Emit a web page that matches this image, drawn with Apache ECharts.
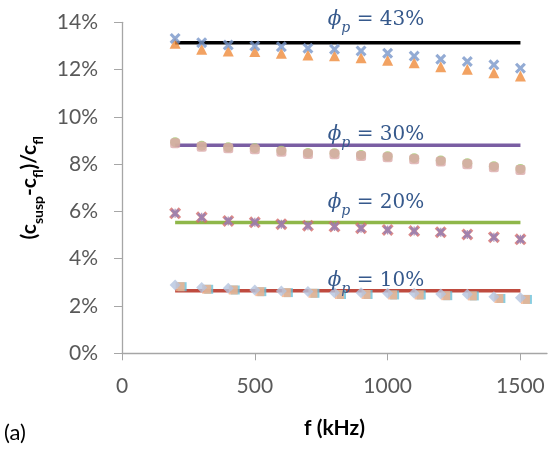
<!DOCTYPE html>
<html><head><meta charset="utf-8">
<script src="https://cdn.jsdelivr.net/npm/echarts@6/dist/echarts.min.js"></script>
<style>html,body{margin:0;padding:0;background:#fff}#c{width:552px;height:452px}</style>
</head><body><div id="c"></div>
<script>
const freq = [200,300,400,500,600,700,800,900,1000,1100,1200,1300,1400,1500];
const xTicks = [0,500,1000,1500];
const yTicks = [0,2,4,6,8,10,12,14];
// phi_p = 43%
const phi43Cross = [13.32,13.14,13.04,13.00,12.97,12.90,12.86,12.79,12.69,12.57,12.44,12.34,12.20,12.06];
const phi43Tri = [13.11,12.86,12.79,12.76,12.69,12.62,12.58,12.50,12.40,12.29,12.12,12.01,11.87,11.73];
// phi_p = 30%
const phi30Circle = [8.93,8.78,8.71,8.67,8.57,8.47,8.46,8.39,8.33,8.25,8.15,8.04,7.91,7.80];
const phi30Square = [8.88,8.74,8.67,8.63,8.53,8.43,8.42,8.35,8.29,8.21,8.11,8.00,7.87,7.75];
// phi_p = 20%
const phi20Cross = [5.92,5.75,5.60,5.54,5.46,5.40,5.36,5.29,5.22,5.17,5.12,5.03,4.91,4.82];
const phi20Star = [5.92,5.75,5.60,5.54,5.46,5.40,5.36,5.29,5.22,5.17,5.12,5.03,4.91,4.82];
// phi_p = 10%
const phi10SquareA = [2.86,2.75,2.72,2.65,2.61,2.58,2.53,2.53,2.51,2.51,2.48,2.47,2.36,2.32];
const phi10SquareB = [2.86,2.75,2.72,2.65,2.61,2.58,2.53,2.53,2.51,2.51,2.48,2.47,2.36,2.32];
const phi10Diamond = [2.89,2.78,2.75,2.68,2.64,2.61,2.56,2.56,2.54,2.54,2.51,2.50,2.39,2.35];
// constant model levels
const fitLevels = [13.14, 8.80, 5.53, 2.65];
const fitRange = [200, 1500];
const annoText = ['43%','30%','20%','10%'];

const pair = (ys) => freq.map((f,i)=>[f, ys[i]]);
const fitLine = (lv) => fitRange.map(f=>[f, lv]);

const crossPath = 'path://M0,2 L2,0 L5,3 L8,0 L10,2 L7,5 L10,8 L8,10 L5,7 L2,10 L0,8 L3,5 Z';
const starPath = 'path://M0,2 L2,0 L4.3,2.3 L4.3,0 L5.7,0 L5.7,2.3 L8,0 L10,2 L7,5 L10,8 L8,10 L5.7,7.7 L5.7,10 L4.3,10 L4.3,7.7 L2,10 L0,8 L3,5 Z';

function sc(name, data, symbol, size, color, extra) {
  return Object.assign({type:'scatter', name, data, symbol, symbolSize:size,
    itemStyle:{color}, z:3, animation:false}, extra||{});
}
function ln(lv, color) {
  return {type:'line', data:fitLine(lv), symbol:'none', lineStyle:{color, width:3.5},
    z:2, animation:false};
}

const chart = echarts.init(document.getElementById('c'), null, {renderer:'canvas'});
const lab = {fontFamily:'Lato', fontSize:21, color:'#595959'};
const rich = {
  phi:{fontFamily:'DejaVu Serif', fontStyle:'italic', fontSize:20, fill:'#36598c', verticalAlign:'bottom', lineHeight:26},
  sub:{fontFamily:'DejaVu Serif', fontStyle:'italic', fontSize:14, fill:'#36598c', verticalAlign:'bottom', lineHeight:26, padding:[0,0,-5,0]},
  t:{fontFamily:'DejaVu Serif', fontSize:20, fill:'#36598c', verticalAlign:'bottom', lineHeight:26}
};
const annoPos = [[376,17],[376,132],[376,200],[376,278]];
chart.setOption({
  backgroundColor:'#fff',
  grid:{left:122, right:5, top:22.3, bottom:98.7},
  xAxis:{type:'value', min:0, max:1600,
    axisLine:{show:true, lineStyle:{color:'#a6a6a6', width:1.3}},
    axisTick:{show:true, length:7, customValues:xTicks, lineStyle:{color:'#a6a6a6'}},
    axisLabel:Object.assign({margin:22, customValues:xTicks, formatter:(v)=>String(v)}, lab),
    splitLine:{show:false},
    name:'f (kHz)', nameLocation:'middle', nameGap:64,
    nameTextStyle:{fontFamily:'Lato', fontSize:21, fontWeight:'bold', color:'#000'}},
  yAxis:{type:'value', min:0, max:14, interval:2,
    axisLine:{show:true, lineStyle:{color:'#a6a6a6', width:1.3}},
    axisTick:{show:true, length:8, lineStyle:{color:'#a6a6a6'}},
    axisLabel:Object.assign({margin:24, formatter:(v)=>v+'%', customValues:yTicks}, lab),
    splitLine:{show:false},
    name:'{a|(c}{s|susp}{a|-c}{s|fl}{a|)/c}{s|fl}', nameLocation:'middle', nameGap:82, nameRotate:90,
    nameTextStyle:{rich:{
      a:{fontFamily:'Lato', fontSize:21, fontWeight:'bold', color:'#000', verticalAlign:'bottom', lineHeight:28},
      s:{fontFamily:'Lato', fontSize:14, fontWeight:'bold', color:'#000', verticalAlign:'bottom', lineHeight:28, padding:[0,0,-5,0]}
    }}},
  series:[
    ln(fitLevels[0], '#000000'),
    ln(fitLevels[1], '#7a5ea3'),
    ln(fitLevels[2], '#8fb74a'),
    ln(fitLevels[3], '#bf4b3f'),
    sc('43 tri', pair(phi43Tri), 'triangle', 11, '#ef8b3b'),
    sc('43 x', pair(phi43Cross), crossPath, 11, '#7896c9', {z:4}),
    sc('30 circle', pair(phi30Circle), 'circle', 10, '#a3c46a'),
    sc('30 sq', pair(phi30Square), 'roundRect', 10, '#dba9a9', {z:4}),
    sc('20 x', pair(phi20Cross), crossPath, 12, '#d46d6a'),
    sc('20 star', pair(phi20Star), starPath, 9, '#9180b6', {z:4}),
    sc('10 sqA', pair(phi10SquareA), 'rect', 9, '#f4b08a', {symbolOffset:[5,1]}),
    sc('10 sqB', pair(phi10SquareB), 'rect', 9, '#6cc0d8', {symbolOffset:[7,1], z:2.5}),
    sc('10 dia', pair(phi10Diamond), 'diamond', 11, '#b4c4e0', {z:4})
  ],
  graphic: annoText.map((t,i)=>({type:'text', x:annoPos[i][0], y:annoPos[i][1], z:10,
    style:{text:'{phi|\u03D5}{sub|p}{t| = '+t+'}', rich, align:'center', verticalAlign:'middle'}}))
    .concat([{type:'text', x:4, y:433, style:{text:'(a)', fontFamily:'Lato', fontSize:22, fill:'#000', verticalAlign:'middle'}}])
});
</script></body></html>
